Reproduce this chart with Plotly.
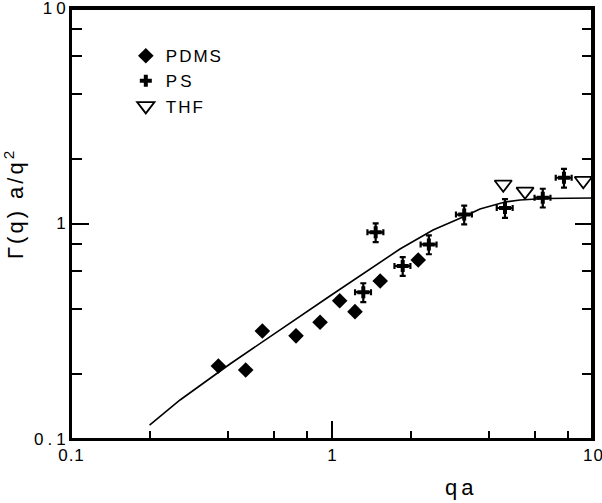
import plotly.graph_objects as go

# ---- data ----
pdms_qa = [0.367, 0.467, 0.541, 0.728, 0.90, 1.07, 1.225, 1.53, 2.14]
pdms_gamma = [0.218, 0.209, 0.317, 0.301, 0.348, 0.438, 0.39, 0.541, 0.677]

ps_qa = [1.318, 1.47, 1.866, 2.35, 3.21, 4.6, 6.42, 7.74]
ps_gamma = [0.48, 0.91, 0.635, 0.80, 1.10, 1.18, 1.318, 1.63]
ps_err_y_pct = 10
ps_err_x_pct = 7

thf_qa = [4.53, 5.49, 9.18]
thf_gamma = [1.52, 1.41, 1.58]

curve_qa = [0.2, 0.2617, 0.4066, 0.754, 0.982, 1.822, 2.438, 3.176, 3.69, 4.60, 5.25, 6.55, 10]
curve_gamma = [0.116, 0.1517, 0.2229, 0.3722, 0.4608, 0.7615, 0.933, 1.072, 1.168, 1.258, 1.285, 1.306, 1.313]

axis_min, axis_max = 0.1, 10
tick_vals = [0.1, 1, 10]
x_tick_text = ["0.1", "1", "10"]
y_tick_text = ["0.1", "1", "10"]
minor_vals = [0.2, 0.4, 0.6, 0.8, 2, 4, 6, 8]

FONT = "Liberation Sans, Arial, Helvetica, sans-serif"


def spaced(t, ls):
    # letter-spacing on all but the last character (no trailing gap)
    if len(t) < 2 or ls == 0:
        return t
    return '<span style="letter-spacing:%dpx">%s</span>%s' % (ls, t[:-1], t[-1])


fig = go.Figure()

# frame (top and right edges of the box) along the axis limits
fig.add_trace(go.Scatter(
    x=[axis_min, axis_max, axis_max], y=[axis_max, axis_max, axis_min],
    mode="lines", line=dict(color="black", width=2), cliponaxis=False,
    showlegend=False, hoverinfo="skip"))

fig.add_trace(go.Scatter(
    x=curve_qa, y=curve_gamma, mode="lines",
    line=dict(color="black", width=1.6), showlegend=False, hoverinfo="skip"))

fig.add_trace(go.Scatter(
    x=pdms_qa, y=pdms_gamma, mode="markers", name=spaced("PDMS", 2),
    legendgroup="a",
    marker=dict(symbol="diamond", size=12, color="black")))

fig.add_trace(go.Scatter(
    x=ps_qa, y=ps_gamma, mode="markers", name=spaced("PS", 3),
    legendgroup="b",
    marker=dict(symbol="cross", size=10, color="black"),
    error_y=dict(type="percent", value=ps_err_y_pct, color="black", thickness=2.2, width=3),
    error_x=dict(type="percent", value=ps_err_x_pct, color="black", thickness=2.2, width=3)))

fig.add_trace(go.Scatter(
    x=thf_qa, y=thf_gamma, mode="markers", name=spaced("THF", 2),
    legendgroup="c", cliponaxis=False,
    marker=dict(symbol="triangle-down-open", size=15, color="black",
                line=dict(color="black", width=1.8))))

axis_common = dict(
    type="log", range=[-1, 1], showgrid=False, zeroline=False,
    showline=True, linecolor="black", linewidth=2,
    ticks="inside", ticklen=18, tickwidth=1.5, tickcolor="black",
    tickmode="array", tickvals=tick_vals, automargin=False,
    ticklabeloverflow="allow",
    tickfont=dict(family=FONT, size=17, color="black"),
)

fig.update_xaxes(
    **axis_common, mirror=True,
    ticktext=[spaced(t, 1) for t in x_tick_text],
    minor=dict(tickmode="array", tickvals=minor_vals, ticks="inside",
               ticklen=8, tickwidth=1.5, tickcolor="black"))
fig.update_yaxes(
    **axis_common, mirror="ticks",
    ticktext=[spaced(t, 4) for t in y_tick_text],
    minor=dict(tickmode="array", tickvals=minor_vals, ticks="inside",
               ticklen=11, tickwidth=1.5, tickcolor="black"))

fig.update_layout(
    width=602, height=503,
    margin=dict(l=71, r=9, t=8, b=64, autoexpand=False),
    paper_bgcolor="white", plot_bgcolor="white",
    font=dict(family=FONT, color="black"),
    showlegend=True,
    legend=dict(x=0.105, y=0.93, xanchor="left", yanchor="top",
                bgcolor="rgba(0,0,0,0)", borderwidth=0,
                font=dict(family=FONT, size=17, color="black"),
                tracegroupgap=11, traceorder="normal"),
    shapes=[dict(type="rect", xref="paper", yref="paper",
                 x0=0, x1=1 - 1 / 522, y0=0, y1=1 - 1 / 431,
                 line=dict(color="black", width=2), layer="above")],
    annotations=[
        dict(text='<span style="letter-spacing:3px">Γ(q) a/q</span><sup>2</sup>',
             textangle=-90,
             xref="paper", yref="paper", showarrow=False,
             x=(14 - 71) / 522, y=(439 - 205) / 431,
             xanchor="center", yanchor="middle",
             font=dict(family=FONT, size=22, color="black")),
        dict(text=spaced("qa", 4),
             xref="paper", yref="paper", showarrow=False,
             x=(459 - 71) / 522, y=(439 - 487) / 431,
             xanchor="center", yanchor="middle",
             font=dict(family=FONT, size=22, color="black")),
    ],
)

fig.write_html("out.html", config={"displayModeBar": False},
               post_script="document.body.style.margin='0';")
